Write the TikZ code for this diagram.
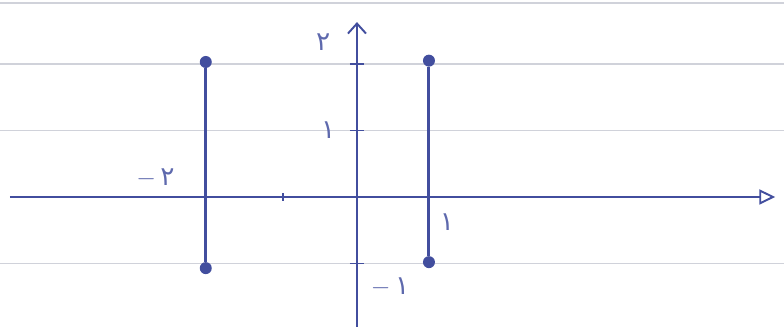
\documentclass[tikz,border=0pt]{standalone}
\usepackage{fontspec}
\newfontfamily\arabicfont[Script=Arabic]{DejaVu Sans}
\usetikzlibrary{arrows.meta}
\definecolor{ink}{RGB}{66,78,158}
\definecolor{paperline}{RGB}{208,210,218}
\begin{document}
\begin{tikzpicture}[x=1.44cm,y=1.33cm,
  every node/.style={text=ink!85,font=\arabicfont\fontsize{15}{18}\selectfont},
  dot/.style={circle,fill=ink,inner sep=0pt,minimum size=0.24cm},
  axis/.style={draw=ink,line width=1.1pt},
  bar/.style={draw=ink,line width=1.7pt},
  ruled/.style={draw=paperline,line width=0.8pt}]
\useasboundingbox (-4.958,-1.955) rectangle (5.931,2.962);
% lined paper
\foreach \y in {-1,1,2,2.92}
  \draw[ruled] (-4.958,\y) -- (5.931,\y);
% axes
\coordinate (xs) at (-4.82,0);
\coordinate (xe) at (5.81,0);
\coordinate (ys) at (0,-1.955);
\coordinate (ye) at (0,2.63);
\draw[axis,-{Triangle[open,length=0.32cm,width=0.3cm]}] (xs) -- (xe);
\draw[axis,-{Straight Barb[length=0.2cm,width=0.36cm]}] (ys) -- (ye);
\foreach \y in {-1,1,2}
  \draw[axis,line width=0.8pt] (-0.1,\y) -- (0.1,\y);
\draw[axis,line width=0.8pt] (-1.03,-0.06) -- (-1.03,0.06);
% segments
\node[dot] (lt) at (-2.1,2.03) {};
\node[dot] (lb) at (-2.1,-1.07) {};
\node[dot] (rt) at (1,2.05) {};
\node[dot] (rb) at (1,-0.98) {};
\draw[bar] (lt) -- (lb);
\draw[bar] (rt) -- (rb);
% labels
\node (ltwo) at (-0.47,2.33) {۲};
\node (lone) at (-0.4,1.0) {۱};
\node (lmtwo) at (-2.8,0.29) {$-$\,۲};
\node (lxone) at (1.25,-0.38) {۱};
\node (lmone) at (0.46,-1.35) {$-$\,۱};
\end{tikzpicture}
\end{document}
